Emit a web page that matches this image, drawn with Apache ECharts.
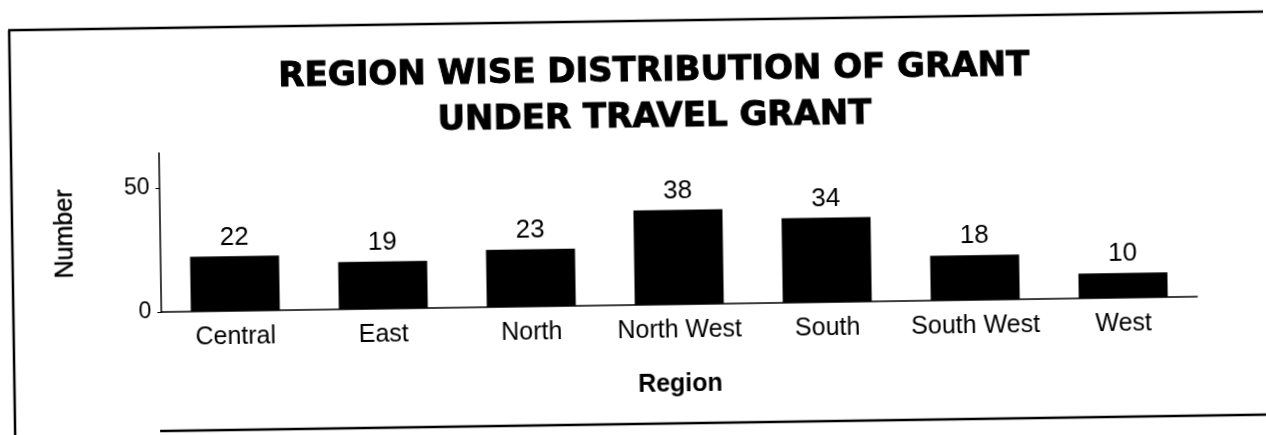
<!DOCTYPE html>
<html>
<head>
<meta charset="utf-8">
<script src="https://cdn.jsdelivr.net/npm/echarts@6/dist/echarts.min.js"></script>
<style>
  html, body { margin: 0; padding: 0; background: #fff; overflow: hidden; }
  #chart { width: 1266px; height: 435px; transform: rotate(-0.85deg); transform-origin: 50% 50%; }
</style>
</head>
<body>
<div id="chart"></div>
<script>
const categories = ['Central', 'East', 'North', 'North West', 'South', 'South West', 'West'];
const values = [22, 19, 23, 38, 34, 18, 10];
const yTickValues = [0, 50];
const titleText = 'REGION WISE DISTRIBUTION OF GRANT\nUNDER TRAVEL GRANT';
const xName = 'Region';
const yName = 'Number';

const chart = echarts.init(document.getElementById('chart'), null, { width: 1266, height: 435, renderer: 'canvas' });
const FONT = "'Liberation Sans', Arial, sans-serif";

chart.setOption({
  backgroundColor: '#fff',
  animation: false,
  title: {
    text: titleText,
    left: 656,
    textAlign: 'center',
    top: 49,
    padding: 0,
    textStyle: {
      fontFamily: "'DejaVu Sans', sans-serif",
      fontWeight: 'bold',
      fontSize: 34,
      lineHeight: 46,
      color: '#000',
      textBorderColor: '#000',
      textBorderWidth: 1
    }
  },
  graphic: [
    { type: 'line', shape: { x1: 12, y1: 21, x2: 12, y2: 450 }, style: { stroke: '#000', lineWidth: 2.5 } },
    { type: 'line', shape: { x1: 11, y1: 21, x2: 1300, y2: 21 }, style: { stroke: '#000', lineWidth: 2.5 } },
    { type: 'line', shape: { x1: 157, y1: 424, x2: 1300, y2: 424 }, style: { stroke: '#000', lineWidth: 2.5 } }
  ],
  grid: { left: 160, right: 70, top: 146, bottom: 130 },
  xAxis: {
    type: 'category',
    data: categories,
    name: xName,
    nameLocation: 'middle',
    nameGap: 68,
    nameTextStyle: { fontFamily: FONT, fontWeight: 'bold', fontSize: 25, color: '#000' },
    axisLine: { show: true, lineStyle: { color: '#000', width: 1.5 } },
    axisTick: { show: false },
    axisLabel: { fontFamily: FONT, fontSize: 25, color: '#000', margin: 14, interval: 0 }
  },
  yAxis: {
    type: 'value',
    min: 0,
    max: 64,
    interval: 50,
    name: yName,
    nameLocation: 'middle',
    nameRotate: 90,
    nameGap: 82,
    nameTextStyle: { fontFamily: FONT, fontSize: 25, color: '#000', textBorderColor: '#000', textBorderWidth: 0.4 },
    axisLine: { show: true, lineStyle: { color: '#000', width: 1.5 } },
    axisTick: { show: true, length: 4, customValues: yTickValues, lineStyle: { color: '#000', width: 1 } },
    axisLabel: { fontFamily: FONT, fontSize: 23, color: '#000', margin: 10, customValues: yTickValues },
    splitLine: { show: false }
  },
  series: [{
    type: 'bar',
    data: values,
    barWidth: 89,
    itemStyle: { color: '#000' },
    label: { show: true, position: 'top', distance: 6, fontFamily: FONT, fontSize: 26, color: '#000' }
  }]
});
</script>
</body>
</html>
